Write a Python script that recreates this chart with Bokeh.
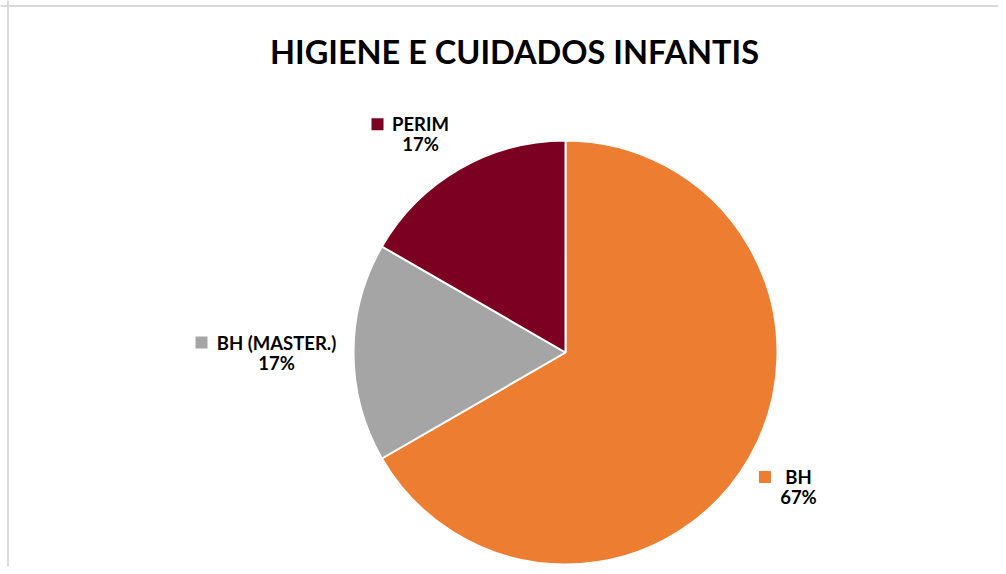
import math
from bokeh.plotting import figure
from bokeh.models import Range1d, Span, ColumnDataSource
from bokeh.core.properties import value
from bokeh.embed import file_html
from bokeh.resources import INLINE

# ---- data ----
title_text = "HIGIENE E CUIDADOS INFANTIS"
categories = ["BH", "BH (MASTER.)", "PERIM"]
values = [4, 1, 1]
colors = ["#ED7D31", "#A5A5A5", "#7C0021"]

# ---- layout ----
W, H = 998, 566
CX, CY, R = 565, 214, 212
label_radius = [269, 289, 262]
label_angle_nudge = [0.0, 0.0, 3.6]   # degrees
key_dx = [-33.5, -75, -43]
FONT = "Lato"

p = figure(width=W, height=H, output_backend="svg", toolbar_location=None,
           x_range=Range1d(0, W), y_range=Range1d(0, H), min_border=0)
p.axis.visible = False
p.grid.visible = False
p.outline_line_color = None
p.background_fill_color = "white"
p.border_fill_color = "white"

# frame lines (top / left)
p.add_layout(Span(location=H - 5.5, dimension="width", line_color="#d9d9d9", line_width=2))
p.add_layout(Span(location=7.5, dimension="height", line_color="#d9d9d9", line_width=2))

total = sum(values)
starts, ends, mids = [], [], []
a0 = math.pi / 2
for v in values:
    a = v / total * 2 * math.pi
    ends.append(a0)
    starts.append(a0 - a)
    mids.append(a0 - a / 2)
    a0 -= a

src = ColumnDataSource(dict(start=starts, end=ends, color=colors))
p.wedge(x=CX, y=CY, radius=R, start_angle="start", end_angle="end",
        fill_color="color", line_color="white", line_width=2, source=src)

names_x, names_y, pct_y, key_x = [], [], [], []
pcts = []
for i, v in enumerate(values):
    ang = mids[i] + math.radians(label_angle_nudge[i])
    ax = CX + label_radius[i] * math.cos(ang)
    ay = CY + label_radius[i] * math.sin(ang)
    names_x.append(ax)
    names_y.append(ay + 10)
    pct_y.append(ay - 10)
    key_x.append(ax + key_dx[i])
    pcts.append(f"{round(v / total * 100)}%")

lsrc = ColumnDataSource(dict(x=names_x, ny=names_y, py=pct_y, kx=key_x,
                             name=categories, pct=pcts, color=colors))
p.text(x="x", y="ny", text="name", source=lsrc, text_align="center",
       text_baseline="middle", text_font=value(FONT), text_font_style="bold",
       text_font_size="18.5px", text_color="#000000")
p.text(x="x", y="py", text="pct", source=lsrc, text_align="center",
       text_baseline="middle", text_font=value(FONT), text_font_style="bold",
       text_font_size="18.5px", text_color="#000000")
p.scatter(x="kx", y="ny", marker="square", size=12, fill_color="color",
          line_color=None, source=lsrc)

p.text(x=[514], y=[515], text=[title_text], text_align="center",
       text_baseline="middle", text_font=value(FONT), text_font_style="bold",
       text_font_size="32.5px", text_color="#000000")

open("out.html", "w").write(file_html(p, INLINE))
